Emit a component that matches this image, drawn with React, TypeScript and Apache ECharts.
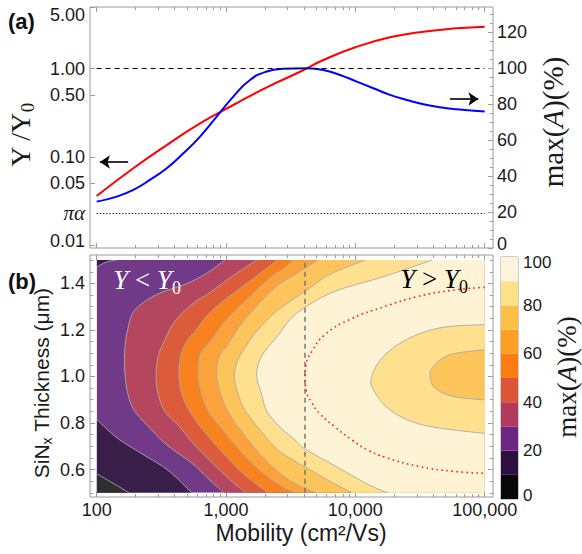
import React, { useEffect, useRef } from "react";
import * as echarts from "echarts";

// ---------- constants / data ----------
const PI_ALPHA = Math.PI / 137.036;

// Panel (a): Y/Y0 (red, left log axis) and max(A) (blue, right axis) vs mobility
const redMobility = [100, 192, 348, 630, 1139, 2064, 3736, 5655, 10250, 18550, 33570, 60830, 100000];
const redRatio = [0.0359, 0.0741, 0.136, 0.24, 0.387, 0.614, 0.922, 1.252, 1.771, 2.264, 2.62, 2.863, 2.985];
const blueMobility = [100, 143, 192, 258, 348, 468, 630, 847, 1139, 1533, 2064, 2775, 4209, 5655, 7615, 10250, 13780, 18550, 24980, 33570, 45190, 60830, 100000];
const blueMaxA = [25.8, 28.6, 32.3, 37.9, 44.4, 52.7, 62.0, 73.1, 84.2, 93.5, 98.2, 99.7, 100, 99.1, 96.3, 92.6, 88.9, 85.2, 82.4, 80.0, 78.3, 77.2, 75.9];

// Panel (b): contour lines of max(A) [mobility, thickness]
const C10 = [[100, 0.582], [134, 0.541], [178, 0.5]];
const C20_TOP = [[100, 1.47], [118, 1.491], [141, 1.5]];
const C20_BOTTOM = [[100, 0.815], [147, 0.732], [236, 0.66], [358, 0.596], [543, 0.5]];
const C30 = [[982, 1.5], [688, 1.439], [482, 1.396], [320, 1.362], [236, 1.323], [191, 1.275], [175, 1.21], [166, 1.137], [164, 1.072], [166, 1.0], [175, 0.921], [194, 0.856], [245, 0.791], [344, 0.709], [546, 0.627], [739, 0.558], [965, 0.5]];
const C40 = [[1735, 1.5], [1174, 1.439], [779, 1.367], [546, 1.31], [403, 1.238], [338, 1.159], [298, 1.085], [288, 1.0], [300, 0.921], [338, 0.848], [428, 0.79], [576, 0.704], [822, 0.617], [1133, 0.545], [1428, 0.5]];
const C50 = [[2480, 1.5], [1676, 1.426], [1036, 1.34], [726, 1.266], [576, 1.193], [508, 1.159], [449, 1.094], [433, 1.0], [457, 0.921], [527, 0.848], [664, 0.77], [931, 0.675], [1403, 0.575], [2113, 0.5]];
const C60 = [[3298, 1.5], [2810, 1.465], [2113, 1.418], [1403, 1.324], [982, 1.238], [775, 1.159], [630, 1.094], [611, 1.0], [649, 0.921], [730, 0.848], [926, 0.775], [1245, 0.689], [1676, 0.614], [2190, 0.562], [2860, 0.519], [3418, 0.5]];
const C70 = [[5146, 1.5], [4083, 1.465], [3418, 1.439], [2393, 1.382], [1676, 1.295], [1245, 1.209], [1036, 1.137], [883, 1.085], [848, 1.0], [915, 0.921], [1036, 0.848], [1330, 0.761], [1768, 0.675], [2269, 0.614], [2860, 0.567], [3736, 0.528], [4967, 0.5]];
const C80 = [[11890, 1.5], [6374, 1.439], [4308, 1.375], [3126, 1.323], [2393, 1.275], [1768, 1.202], [1454, 1.137], [1238, 1.072], [1159, 1.0], [1245, 0.921], [1428, 0.848], [1889, 0.761], [2525, 0.683], [3418, 0.636], [4083, 0.612], [6151, 0.554], [9429, 0.5]];
const C90 = [[39200, 1.5], [16970, 1.431], [6966, 1.366], [4083, 1.297], [3126, 1.245], [2525, 1.176], [2039, 1.115], [1799, 1.064], [1728, 1.0], [1889, 0.921], [2076, 0.848], [2697, 0.775], [3418, 0.727], [4083, 0.688], [6966, 0.616], [12540, 0.536], [17900, 0.5]];
const C90_INNER = [[100000, 1.223], [45190, 1.209], [24980, 1.159], [16470, 1.086], [13390, 1.0], [13780, 0.943], [18550, 0.856], [33570, 0.791], [100000, 0.755]];
const C80_INNER = [[100000, 1.115], [54000, 1.094], [40110, 1.043], [37820, 1.0], [41350, 0.95], [57280, 0.914], [100000, 0.899]];
// Y = Y0 boundary (red dotted)
const Y_EQ = [[100000, 1.383], [55960, 1.37], [30540, 1.344], [16970, 1.301], [9429, 1.249], [5831, 1.18], [4601, 1.107], [4156, 1.051], [4083, 1.0], [4156, 0.943], [4625, 0.886], [5333, 0.839], [6966, 0.783], [9429, 0.727], [12540, 0.683], [16970, 0.653], [30540, 0.614], [55960, 0.593], [100000, 0.584]];
const Y0_MOBILITY = 4083;

// colour levels (0-10, 10-20, ... 90-100)
const CB_LEVELS = [0, 10, 20, 30, 40, 50, 60, 70, 80, 90, 100];
const PLOT_COLORS = ["#2f2f2f", "#3a1f4b", "#703a89", "#b4475f", "#dc5b3b", "#f7821f", "#fba23a", "#fdc45b", "#fee08f", "#fff3d6"];
const BAR_COLORS = ["#080808", "#2b1040", "#6b2681", "#b13a5e", "#db5539", "#fb7c12", "#fd9f22", "#fdbf48", "#fde08a", "#fef3dc"];

// axis ticks
const X_MAJOR = [100, 1000, 10000, 100000];
const X_MINOR = [200, 300, 400, 500, 600, 700, 800, 900, 2000, 3000, 4000, 5000, 6000, 7000, 8000, 9000, 20000, 30000, 40000, 50000, 60000, 70000, 80000, 90000];
const Y_LEFT_TICKS = [0.01, 0.05, 0.1, 0.5, 1, 5];
const Y_LEFT_LABELS = ["0.01", "0.05", "0.10", "0.50", "1.00", "5.00"];
const Y_RIGHT_TICKS = [0, 20, 40, 60, 80, 100, 120];
const Y_RIGHT_MINOR = [5, 10, 15, 25, 30, 35, 45, 50, 55, 65, 70, 75, 85, 90, 95, 105, 110, 115, 125, 130];
const T_TICKS = [0.6, 0.8, 1.0, 1.2, 1.4];
const T_MINOR = [0.5, 0.55, 0.65, 0.7, 0.75, 0.85, 0.9, 0.95, 1.05, 1.1, 1.15, 1.25, 1.3, 1.35, 1.45, 1.5];

const XMIN = 88.8;
const XMAX = 116000;
const MOB_MIN = 100;
const MOB_MAX = 100000;
const T_LO = 0.5;
const T_HI = 1.5;

// ---------- styles ----------
const SANS = '"Liberation Sans", Arial, Helvetica, sans-serif';
const SERIF = '"Liberation Serif", "Times New Roman", serif';
const FRAME = "#9a9a9a";
const TEXT = "#1a1a1a";

// smooth contour path (Catmull-Rom through the read points, straight closure along edges)
echarts.graphic.registerShape(
  "contourPath",
  echarts.graphic.extendShape({
    shape: { curve: [], tail: [], closed: true },
    buildPath(ctx: any, shape: any) {
      const p = shape.curve;
      if (!p || p.length < 2) return;
      ctx.moveTo(p[0][0], p[0][1]);
      for (let i = 0; i < p.length - 1; i++) {
        const p0 = p[i > 0 ? i - 1 : i];
        const p1 = p[i];
        const p2 = p[i + 1];
        const p3 = p[i + 2 < p.length ? i + 2 : i + 1];
        const c1x = p1[0] + (p2[0] - p0[0]) / 6;
        const c1y = p1[1] + (p2[1] - p0[1]) / 6;
        const c2x = p2[0] - (p3[0] - p1[0]) / 6;
        const c2y = p2[1] - (p3[1] - p1[1]) / 6;
        ctx.bezierCurveTo(c1x, c1y, c2x, c2y, p2[0], p2[1]);
      }
      if (shape.closed) {
        const t = shape.tail || [];
        for (let i = 0; i < t.length; i++) ctx.lineTo(t[i][0], t[i][1]);
        ctx.closePath();
      }
    },
  })
);

const REGIONS = [
  { curve: C20_TOP, tail: [[MOB_MIN, T_HI]], level: 1 },
  { curve: C20_BOTTOM, tail: [[MOB_MIN, T_LO]], level: 1 },
  { curve: C10, tail: [[MOB_MIN, T_LO]], level: 0 },
  { curve: C30, tail: [[MOB_MAX, T_LO], [MOB_MAX, T_HI]], level: 3 },
  { curve: C40, tail: [[MOB_MAX, T_LO], [MOB_MAX, T_HI]], level: 4 },
  { curve: C50, tail: [[MOB_MAX, T_LO], [MOB_MAX, T_HI]], level: 5 },
  { curve: C60, tail: [[MOB_MAX, T_LO], [MOB_MAX, T_HI]], level: 6 },
  { curve: C70, tail: [[MOB_MAX, T_LO], [MOB_MAX, T_HI]], level: 7 },
  { curve: C80, tail: [[MOB_MAX, T_LO], [MOB_MAX, T_HI]], level: 8 },
  { curve: C90, tail: [[MOB_MAX, T_LO], [MOB_MAX, T_HI]], level: 9 },
  { curve: C90_INNER, tail: [], level: 8 },
  { curve: C80_INNER, tail: [], level: 7 },
];
const CONTOUR_LINES = [C10, C20_TOP, C20_BOTTOM, C30, C40, C50, C60, C70, C80, C90, C90_INNER, C80_INNER];

const tickStyle = { color: FRAME, width: 1 };
const labelBase = { fontSize: 18, fontFamily: SANS, color: TEXT };

function xAxisDef(grid: number, pos: string, ticks: number[], len: number, labels: boolean) {
  return {
    gridIndex: grid,
    type: "log",
    logBase: 10,
    position: pos,
    min: XMIN,
    max: XMAX,
    axisLine: { show: false },
    axisTick: { show: true, inside: true, length: len, customValues: ticks, lineStyle: tickStyle },
    axisLabel: labels
      ? {
          show: true,
          customValues: X_MAJOR,
          margin: 4,
          ...labelBase,
          formatter: (v: number) => Math.round(v).toLocaleString("en-US"),
        }
      : { show: false },
    splitLine: { show: false },
    minorTick: { show: false },
  };
}

function yAxisDef(grid: number, pos: string, type: string, min: number, max: number, ticks: number[], len: number, label: any) {
  return {
    gridIndex: grid,
    type,
    position: pos,
    min,
    max,
    axisLine: { show: false },
    axisTick: { show: true, inside: true, length: len, customValues: ticks, lineStyle: tickStyle },
    axisLabel: label || { show: false },
    splitLine: { show: false },
    minorTick: { show: false },
  };
}

function leftLabel(v: number) {
  if (Math.abs(v - PI_ALPHA) / PI_ALPHA < 1e-3) return "{pa|πα}";
  for (let i = 0; i < Y_LEFT_TICKS.length; i++) {
    if (Math.abs(v - Y_LEFT_TICKS[i]) / Y_LEFT_TICKS[i] < 1e-3) {
      const s = Y_LEFT_LABELS[i];
      if (i === Y_LEFT_TICKS.length - 1) return "{dn|" + s + "}";
      if (i === 0) return "{up|" + s + "}";
      return s;
    }
  }
  return "";
}

function buildOption() {
  const redData = redMobility.map((m, i) => [m, redRatio[i]]);
  const blueData = blueMobility.map((m, i) => [m, blueMaxA[i]]);

  const contourSeries = {
    type: "custom",
    xAxisIndex: 4,
    yAxisIndex: 3,
    silent: true,
    z: 2,
    data: [[1000, 1]],
    renderItem: (params: any, api: any) => {
      const px = (pts: number[][]) => pts.map((p) => api.coord(p));
      const tl = api.coord([MOB_MIN, T_HI]);
      const br = api.coord([MOB_MAX, T_LO]);
      const children: any[] = [
        {
          type: "rect",
          shape: { x: tl[0], y: tl[1], width: br[0] - tl[0], height: br[1] - tl[1] },
          style: { fill: PLOT_COLORS[2] },
        },
      ];
      REGIONS.forEach((r) => {
        children.push({
          type: "contourPath",
          shape: { curve: px(r.curve), tail: px(r.tail), closed: true },
          style: { fill: PLOT_COLORS[r.level], stroke: "none" },
        });
      });
      CONTOUR_LINES.forEach((c) => {
        children.push({
          type: "contourPath",
          shape: { curve: px(c), tail: [], closed: false },
          style: { fill: "none", stroke: "#a9a9a9", lineWidth: 0.9 },
        });
      });
      return {
        type: "group",
        children,
        clipPath: { type: "rect", shape: { x: tl[0], y: tl[1], width: br[0] - tl[0], height: br[1] - tl[1] } },
      };
    },
  };

  const cbSeries = CB_LEVELS.slice(0, -1).map((lv, i) => ({
    type: "bar",
    xAxisIndex: 8,
    yAxisIndex: 7,
    stack: "cb",
    silent: true,
    barWidth: "100%",
    data: [CB_LEVELS[i + 1] - lv],
    itemStyle: { color: BAR_COLORS[i] },
  }));

  const richSerif = (size: number, color: string) => ({
    a: { fontSize: size, fontFamily: SERIF, fill: color },
    i: { fontSize: size, fontFamily: SERIF, fontStyle: "italic", fill: color },
    s: { fontSize: Math.round(size * 0.68), fontFamily: SERIF, fill: color, padding: [Math.round(size * 0.55), 0, 0, 0] },
  });

  return {
    animation: false,
    grid: [
      { left: 90, top: 7, width: 403, height: 241, show: true, borderColor: FRAME, borderWidth: 1, backgroundColor: "transparent", outerBoundsMode: "none" },
      { left: 90, top: 255, width: 403, height: 242, show: true, borderColor: FRAME, borderWidth: 1, backgroundColor: "transparent", outerBoundsMode: "none" },
      { left: 501, top: 257, width: 17, height: 242, show: true, borderColor: FRAME, borderWidth: 1, backgroundColor: "transparent", outerBoundsMode: "none" },
    ],
    xAxis: [
      xAxisDef(0, "bottom", X_MAJOR, 5, false),
      xAxisDef(0, "bottom", X_MINOR, 3, false),
      xAxisDef(0, "top", X_MAJOR, 5, false),
      xAxisDef(0, "top", X_MINOR, 3, false),
      xAxisDef(1, "bottom", X_MAJOR, 5, true),
      xAxisDef(1, "bottom", X_MINOR, 3, false),
      xAxisDef(1, "top", X_MAJOR, 5, false),
      xAxisDef(1, "top", X_MINOR, 3, false),
      { gridIndex: 2, type: "category", data: ["cb"], show: false },
    ],
    yAxis: [
      yAxisDef(0, "left", "log", 0.00925, 5, Y_LEFT_TICKS, 5, {
        show: true,
        customValues: [...Y_LEFT_TICKS, PI_ALPHA],
        margin: 5,
        ...labelBase,
        formatter: leftLabel,
        rich: {
          dn: { ...labelBase, padding: [16, 0, 0, 0] },
          up: { ...labelBase, padding: [0, 0, 8, 0] },
          pa: { fontSize: 21, fontFamily: SERIF, fontStyle: "italic", color: TEXT },
        },
      }),
      yAxisDef(0, "right", "value", 0, 134.1, Y_RIGHT_TICKS, 5, {
        show: true,
        customValues: Y_RIGHT_TICKS,
        margin: 4,
        ...labelBase,
        formatter: (v: number) => (v === 0 ? "{up|0}" : String(v)),
        rich: { up: { ...labelBase, padding: [0, 0, 9, 0] } },
      }),
      yAxisDef(0, "right", "value", 0, 134.1, Y_RIGHT_MINOR, 3, null),
      yAxisDef(1, "left", "value", 0.482, 1.522, T_TICKS, 5, {
        show: true,
        customValues: T_TICKS,
        margin: 5,
        ...labelBase,
        formatter: (v: number) => v.toFixed(1),
      }),
      yAxisDef(1, "left", "value", 0.482, 1.522, T_MINOR, 3, null),
      yAxisDef(1, "right", "value", 0.482, 1.522, T_TICKS, 5, null),
      yAxisDef(1, "right", "value", 0.482, 1.522, T_MINOR, 3, null),
      {
        gridIndex: 2,
        type: "value",
        position: "right",
        min: 0,
        max: 100,
        interval: 20,
        axisLine: { show: false },
        axisTick: { show: false },
        splitLine: { show: false },
        axisLabel: {
          margin: 5,
          fontSize: 17,
          fontFamily: SANS,
          color: TEXT,
          formatter: (v: number) => (v === 100 ? "{dn|100}" : v === 0 ? "{up|0}" : String(v)),
          rich: {
            dn: { fontSize: 17, fontFamily: SANS, color: TEXT, padding: [11, 0, 0, 0] },
            up: { fontSize: 17, fontFamily: SANS, color: TEXT, padding: [0, 0, 7, 0] },
          },
        },
      },
    ],
    series: [
      {
        type: "line",
        name: "Y/Y0",
        xAxisIndex: 0,
        yAxisIndex: 0,
        data: redData,
        smooth: true,
        symbol: "none",
        z: 4,
        lineStyle: { color: "#ff0000", width: 2 },
        markLine: {
          silent: true,
          symbol: "none",
          label: { show: false },
          data: [
            [{ coord: [MOB_MIN, 1], lineStyle: { color: "#000", width: 1, type: [5, 4] } }, { coord: [MOB_MAX, 1] }],
            [{ coord: [MOB_MIN, PI_ALPHA], lineStyle: { color: "#000", width: 1, type: [1.2, 2] } }, { coord: [MOB_MAX, PI_ALPHA] }],
            [
              { coord: [175, 0.0873], symbol: "none", lineStyle: { color: "#000", width: 1.6, type: "solid" } },
              { coord: [106, 0.0873], symbol: "arrow", symbolSize: 10 },
            ],
          ],
        },
      },
      {
        type: "line",
        name: "max(A)",
        xAxisIndex: 0,
        yAxisIndex: 1,
        data: blueData,
        smooth: true,
        symbol: "none",
        z: 4,
        lineStyle: { color: "#0000ff", width: 2 },
        markLine: {
          silent: true,
          symbol: "none",
          label: { show: false },
          data: [
            [
              { coord: [54000, 82.9], symbol: "none", lineStyle: { color: "#000", width: 1.6, type: "solid" } },
              { coord: [89400, 82.9], symbol: "arrow", symbolSize: 10 },
            ],
          ],
        },
      },
      contourSeries,
      {
        type: "line",
        name: "Y=Y0",
        xAxisIndex: 4,
        yAxisIndex: 3,
        data: Y_EQ,
        smooth: true,
        symbol: "none",
        z: 5,
        lineStyle: { color: "#ff1a1a", width: 1.6, type: [1.6, 3.4] },
        markLine: {
          silent: true,
          symbol: "none",
          label: { show: false },
          data: [
            [
              { coord: [Y0_MOBILITY, T_LO], lineStyle: { color: "#777", width: 1.5, type: [5, 4] } },
              { coord: [Y0_MOBILITY, T_HI] },
            ],
          ],
        },
      },
      ...cbSeries,
    ],
    graphic: [
      { type: "text", z: 100, x: 8, y: 21, style: { text: "(a)", fontSize: 22, fontWeight: "bold", fontFamily: SANS, fill: "#111", align: "left", verticalAlign: "middle" } },
      { type: "text", z: 100, x: 8, y: 281, style: { text: "(b)", fontSize: 22, fontWeight: "bold", fontFamily: SANS, fill: "#111", align: "left", verticalAlign: "middle" } },
      {
        type: "text", z: 100, x: 20, y: 135, rotation: Math.PI / 2,
        style: { text: "{a|Y /Y}{s|0}", rich: richSerif(28, TEXT), align: "center", verticalAlign: "middle" },
      },
      {
        type: "text", z: 100, x: 553, y: 122, rotation: Math.PI / 2,
        style: { text: "{a|max(}{i|A}{a|)(%)}", rich: richSerif(29, TEXT), align: "center", verticalAlign: "middle" },
      },
      {
        type: "text", z: 100, x: 567, y: 377, rotation: Math.PI / 2,
        style: { text: "{a|max(}{i|A}{a|)(%)}", rich: richSerif(27, TEXT), align: "center", verticalAlign: "middle" },
      },
      {
        type: "text", z: 100, x: 41, y: 383, rotation: Math.PI / 2,
        style: {
          text: "{a|SiN}{s|x}{a| Thickness (μm)}",
          rich: {
            a: { fontSize: 21, fontFamily: SANS, fill: TEXT },
            s: { fontSize: 14, fontFamily: SANS, fill: TEXT, padding: [11, 0, 0, 0] },
          },
          align: "center",
          verticalAlign: "middle",
        },
      },
      {
        type: "text", z: 100, x: 301, y: 533,
        style: { text: "Mobility (cm²/Vs)", fontSize: 23, fontFamily: SANS, fill: TEXT, align: "center", verticalAlign: "middle" },
      },
      {
        type: "text", z: 100, x: 147, y: 280,
        style: { text: "{i|Y}{a| < }{i|Y}{s|0}", rich: richSerif(27, "#ffffff"), align: "center", verticalAlign: "middle" },
      },
      {
        type: "text", z: 100, x: 434, y: 279,
        style: { text: "{i|Y}{a| > }{i|Y}{s|0}", rich: richSerif(27, "#000000"), align: "center", verticalAlign: "middle" },
      },
    ],
  };
}

export default function App() {
  const ref = useRef<HTMLDivElement>(null);
  useEffect(() => {
    document.body.style.margin = "0";
    const chart = echarts.init(ref.current as HTMLDivElement, null, { renderer: "svg" });
    chart.setOption(buildOption() as any);
    return () => {
      chart.dispose();
    };
  }, []);
  return <div ref={ref} style={{ width: 582, height: 554 }} />;
}
